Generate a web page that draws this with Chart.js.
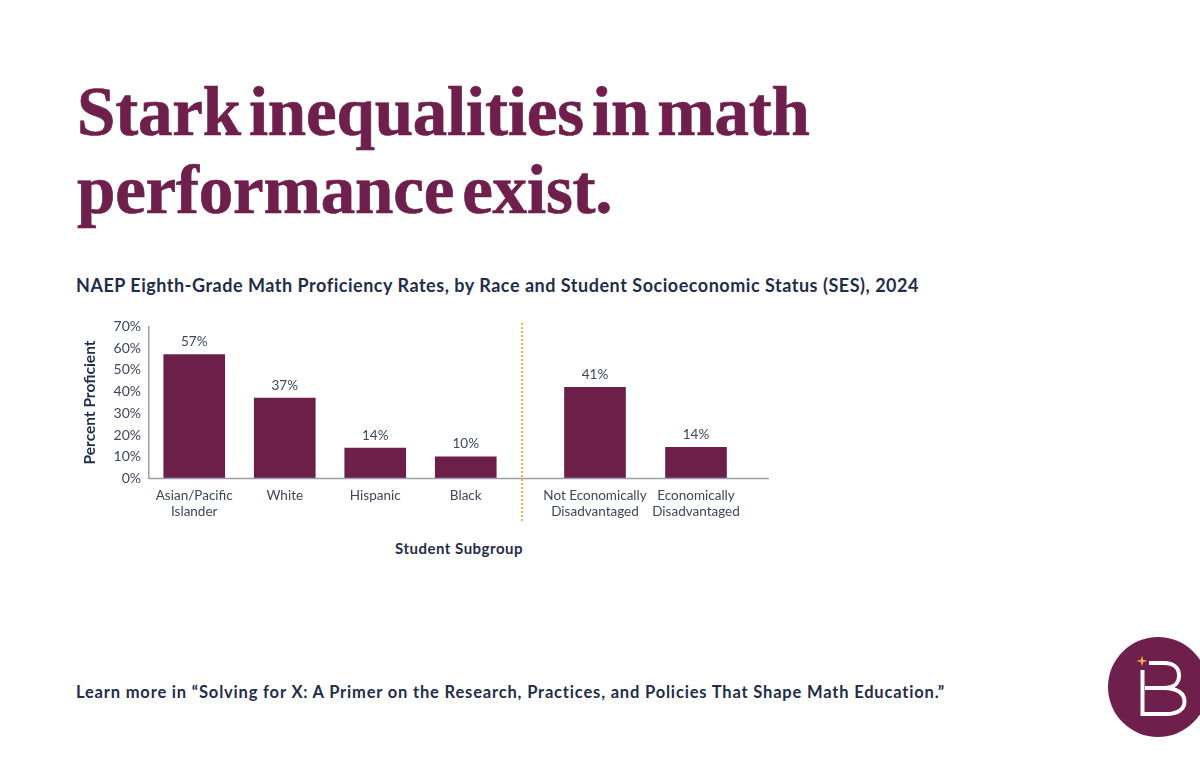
<!DOCTYPE html>
<html>
<head>
<meta charset="utf-8">
<title>Stark inequalities in math performance exist.</title>
<script src="https://cdn.jsdelivr.net/npm/chart.js@4/dist/chart.umd.min.js"></script>
<style>
    html, body { margin: 0; padding: 0; background: #fff; }
    #page { position: relative; width: 1200px; height: 760px; overflow: hidden; font-family: Lato, sans-serif; color: #1f2d4a; }
    #page > * { position: absolute; }
    h1 { margin: 0; left: 77px; top: 73px; font: bold 69px/78px "Liberation Serif", serif; letter-spacing: -0.2px; word-spacing: -9px; -webkit-text-stroke: 0.7px #6e1f4b; color: #6e1f4b; white-space: nowrap; }
    h2 { margin: 0; left: 76px; top: 274px; font: bold 18px/22px Lato, sans-serif; letter-spacing: 0.52px; white-space: nowrap; }
    #xTitle { left: 359px; width: 200px; top: 539px; text-align: center; font: bold 15px/18px Lato, sans-serif; letter-spacing: 0.5px; }
    #more { left: 76px; top: 682px; font: bold 16.5px/20px Lato, sans-serif; letter-spacing: 0.82px; white-space: nowrap; }
    #leftChart { left: 70px; top: 310px; }
    #rightChart { left: 533px; top: 310px; }
    #logo { left: 1100px; top: 630px; }
</style>
</head>
<body>
<div id="page">
    <h1>Stark inequalities in math<br>performance exist.</h1>
    <h2>NAEP Eighth-Grade Math Proficiency Rates, by Race and Student Socioeconomic Status (SES), 2024</h2>
    <canvas id="leftChart" width="463" height="220"></canvas>
    <canvas id="rightChart" width="267" height="220"></canvas>
    <div id="xTitle">Student Subgroup</div>
    <div id="more">Learn more in “Solving for X: A Primer on the Research, Practices, and Policies That Shape Math Education.”</div>
    <svg id="logo" width="100" height="116" viewBox="1100 630 100 116">
        <circle cx="1158" cy="687" r="50" fill="#6e1f4b"/>
        <path d="M1142 655.5 L1143.2 659.8 L1147.5 661 L1143.2 662.2 L1142 666.5 L1140.8 662.2 L1136.5 661 L1140.8 659.8 Z" fill="#f0a84a"/>
        <path d="M1149 663 H1164 C1174 663 1179 668 1179 675.5 C1179 683 1174 688 1164 688 H1145 M1164 688 C1178 688 1184.5 694 1184.5 701.5 C1184.5 709 1178 714 1166 714 H1142.5 V670" fill="none" stroke="#fff" stroke-width="4"/>
    </svg>
</div>

<script>
"use strict";

const raceLabels = [['Asian/Pacific', 'Islander'], 'White', 'Hispanic', 'Black'];
const raceValues = [57, 37, 14, 10];
const sesLabels = [['Not Economically', 'Disadvantaged'], ['Economically', 'Disadvantaged']];
const sesValues = [41, 14];

const barColor = '#6c1f49';
const textColor = '#3d4759';
const axisColor = '#9a9ea6';

// value labels above bars + the long baseline
const barExtras = {
    id: 'barExtras',
    afterDatasetsDraw(chart, args, opts) {
        const ctx = chart.ctx;
        const zero = chart.scales.y.getPixelForValue(0);

        ctx.save();
        ctx.strokeStyle = axisColor;
        ctx.lineWidth = 1.5;
        ctx.beginPath();
        ctx.moveTo(opts.lineFrom, zero);
        ctx.lineTo(opts.lineTo, zero);
        ctx.stroke();

        ctx.fillStyle = textColor;
        ctx.font = '13.5px Lato';
        ctx.textAlign = 'center';
        ctx.textBaseline = 'bottom';
        chart.getDatasetMeta(0).data.forEach(function (bar, i) {
            ctx.fillText(chart.data.datasets[0].data[i] + '%', bar.x, bar.y - 6);
        });

        // dotted divider between race and SES
        if (opts.divider) {
            ctx.strokeStyle = '#f0ac55';
            ctx.lineWidth = 2;
            ctx.setLineDash([2, 2]);
            ctx.beginPath();
            ctx.moveTo(opts.divider, 13);
            ctx.lineTo(opts.divider, 211);
            ctx.stroke();
        }
        ctx.restore();
    }
};

function makeChart(id, labels, values, showY, padding, extras) {
    return new Chart(document.getElementById(id), {
        type: 'bar',
        data: {
            labels: labels,
            datasets: [{ data: values, backgroundColor: barColor, barThickness: 61 }]
        },
        plugins: [barExtras],
        options: {
            responsive: false,
            animation: false,
            layout: { padding: padding },
            plugins: {
                legend: { display: false },
                tooltip: { enabled: false },
                barExtras: extras
            },
            scales: {
                x: {
                    grid: { display: false },
                    border: { display: false },
                    afterFit(scale) { scale.height = 51.5; },
                    ticks: {
                        color: textColor,
                        font: { family: 'Lato', size: 13.5, lineHeight: 1.19 },
                        padding: 1,
                        maxRotation: 0,
                        autoSkip: false
                    }
                },
                y: {
                    display: showY,
                    min: 0,
                    max: 70,
                    afterFit(scale) { scale.width = showY ? 79 : 0; },
                    grid: { display: false, drawTicks: false },
                    border: { display: true, color: axisColor, width: 1.5 },
                    title: {
                        display: true,
                        text: 'Percent Proficient',
                        color: '#1f2d4a',
                        padding: { top: 11, bottom: 0 },
                        font: { family: 'Lato', size: 15.5, weight: 'bold' }
                    },
                    ticks: {
                        stepSize: 10,
                        color: textColor,
                        padding: 8,
                        font: { family: 'Lato', size: 14 },
                        callback: function (value) { return value + '%'; }
                    }
                }
            }
        }
    });
}

makeChart('leftChart', raceLabels, raceValues, true,
    { left: 0, right: 22, top: 13, bottom: 0 },
    { lineFrom: 79, lineTo: 463, divider: 452 });
makeChart('rightChart', sesLabels, sesValues, false,
    { left: 11.5, right: 53.5, top: 13, bottom: 0 },
    { lineFrom: 0, lineTo: 236 });
</script>
</body>
</html>
